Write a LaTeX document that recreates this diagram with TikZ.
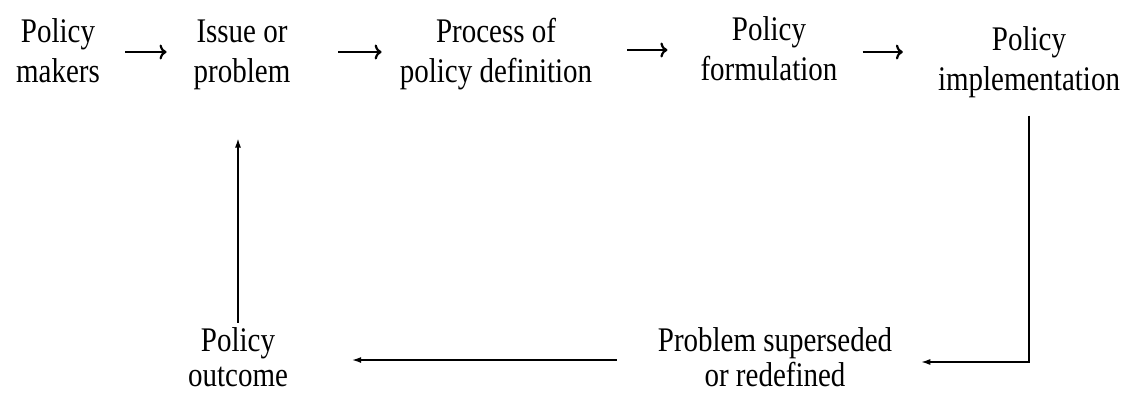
\documentclass[tikz,border=0pt]{standalone}
\usepackage{fontspec}
\setmainfont{Liberation Serif}[FakeStretch=0.84]
\usetikzlibrary{arrows.meta}
\begin{document}
\begin{tikzpicture}[x=1pt,y=-1pt,
  lbl/.style={align=center, font=\fontsize{34.5}{40}\selectfont, inner sep=0pt, anchor=base},
  lblb/.style={lbl, font=\fontsize{34.5}{35}\selectfont},
  flow/.style={line width=2.2pt, -{To[length=7pt,width=15pt]}},
  conn/.style={line width=1.3pt, -{Latex[length=9pt,width=6pt]}}]
\useasboundingbox (0,0) rectangle (1133,394);
\node[lbl] (pm) at (58,82) {Policy\\makers};
\node[lbl] (ip) at (242,82) {Issue or\\problem};
\node[lbl] (pd) at (496,82) {Process of\\policy definition};
\node[lbl] (pf) at (769,80) {Policy\\formulation};
\node[lbl] (pi) at (1029,90) {Policy\\implementation};
\node[lblb] (ps) at (775,386) {Problem superseded\\or redefined};
\node[lblb] (po) at (238,386) {Policy\\outcome};
\draw[flow, shorten <=25pt, shorten >=27pt] (pm.east |- 0,52) -- (ip.west |- 0,52);
\draw[flow, shorten <=48pt, shorten >=18pt] (ip.east |- 0,52) -- (pd.west |- 0,52);
\draw[flow, shorten <=35pt, shorten >=33pt] (pd.east |- 0,50) -- (pf.west |- 0,50);
\draw[flow, shorten <=25pt, shorten >=35pt] (pf.east |- 0,52) -- (pi.west |- 0,52);
\draw[conn, shorten <=18pt, shorten >=29pt] (pi.south) |- (ps.east |- 0,362);
\draw[conn, shorten <=41pt, shorten >=64pt] (ps.west |- 0,360) -- (po.east |- 0,360);
\draw[conn, shorten <=4pt, shorten >=49pt] (po.north) -- (po.north |- ip.south);
\end{tikzpicture}
\end{document}
